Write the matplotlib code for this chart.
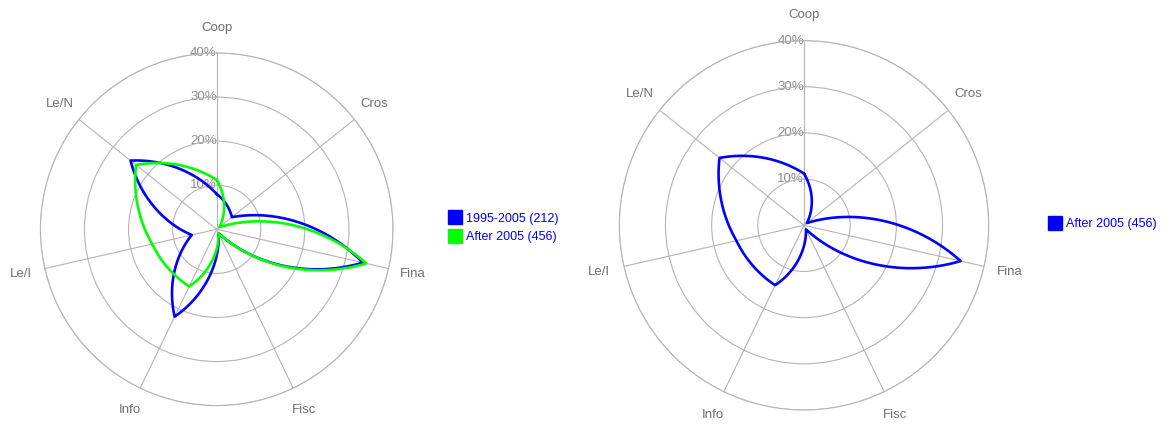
import numpy as np
import matplotlib
matplotlib.use('Agg')
import matplotlib.pyplot as plt
from matplotlib.lines import Line2D

plt.rcParams['font.family'] = ['Liberation Sans', 'DejaVu Sans']

categories = ['Coop', 'Cros', 'Fina', 'Fisc', 'Info', 'Le/I', 'Le/N']
ring_ticks = [10, 20, 30, 40]
ring_labels = ['10%', '20%', '30%', '40%']

# share of each category, in percent
before_2005 = [8.0, 4.4, 34.0, 1.0, 22.0, 5.8, 25.0]
after_2005 = [11.2, 0.8, 34.8, 1.0, 14.4, 15.0, 23.4]

label_before = '1995-2005 (212)'
label_after = 'After 2005 (456)'

BLUE = '#0000ff'
GREEN = '#00ff00'
GRID = '#b4b4b4'
TEXT = '#707070'

W, H = 1163, 424


def polar_rect(cx, cy, rad):
    """
    axes rectangle (figure fraction) for a circle given in pixels
    """
    return [(cx - rad) / W, (H - cy - rad) / H, 2 * rad / W, 2 * rad / H]


def smooth_path(values, blend=0.4, steps=60):
    """
    curve between neighbouring categories: a spiral in polar
    space pulled part of the way towards the straight chord
    """
    n = len(values)
    step = 2 * np.pi / n
    xs, ys = [], []
    for i in range(n):
        j = (i + 1) % n
        s = np.linspace(0, 1, steps)
        th = i * step + s * step
        r = values[i] + s * (values[j] - values[i])
        sx, sy = r * np.sin(th), r * np.cos(th)
        x0, y0 = values[i] * np.sin(i * step), values[i] * np.cos(i * step)
        x1, y1 = values[j] * np.sin(j * step), values[j] * np.cos(j * step)
        cx = (1 - s) * x0 + s * x1
        cy = (1 - s) * y0 + s * y1
        xs.append((1 - blend) * sx + blend * cx)
        ys.append((1 - blend) * sy + blend * cy)
    x = np.concatenate(xs)
    y = np.concatenate(ys)
    theta = np.unwrap(np.arctan2(x, y))
    return theta, np.hypot(x, y)


def radar(ax, series):
    """
    draws one circular radar with its grid and labels
    """
    n = len(categories)
    angles = np.arange(n) * 2 * np.pi / n
    ax.set_theta_zero_location('N')
    ax.set_theta_direction(-1)
    ax.set_ylim(0, 40)
    ax.set_xticks(angles)
    ax.set_xticklabels([])
    ax.set_yticks(ring_ticks)
    ax.set_yticklabels([])
    ax.grid(True, color=GRID, linewidth=0.8)
    ax.spines['polar'].set_color(GRID)
    ax.spines['polar'].set_linewidth(0.8)
    ax.tick_params(length=0)

    for a, name in zip(angles, categories):
        ax.text(a, 45.6, name, ha='center', va='center', color=TEXT,
                fontsize=9.5, clip_on=False)
    for r, lab in zip(ring_ticks, ring_labels):
        ax.text(0, r, lab, ha='right', va='center', color='#8c8c8c',
                fontsize=9.5, zorder=1)

    for values, color in series:
        theta, r = smooth_path(values)
        ax.plot(theta, r, color=color, linewidth=1.9, zorder=3)


fig = plt.figure(figsize=(W / 100, H / 100), dpi=100)

ax1 = fig.add_axes(polar_rect(216.7, 229.3, 176.3), projection='polar')
radar(ax1, [(before_2005, BLUE), (after_2005, GREEN)])

ax2 = fig.add_axes(polar_rect(804, 225.3, 184.7), projection='polar')
radar(ax2, [(after_2005, BLUE)])

handles = [Line2D([], [], marker='s', color=BLUE, linestyle='none', markersize=9.5),
           Line2D([], [], marker='s', color=GREEN, linestyle='none', markersize=9.5)]
fig.legend(handles, [label_before, label_after], loc='center left',
           bbox_to_anchor=(436 / W, 1 - 228 / H), frameon=False,
           labelcolor=BLUE, fontsize=9, handletextpad=0.3,
           labelspacing=0.55, handlelength=1.2)

fig.legend(handles[:1], [label_after], loc='center left',
           bbox_to_anchor=(1036 / W, 1 - 224 / H), frameon=False,
           labelcolor=BLUE, fontsize=9, handletextpad=0.3, handlelength=1.2)

fig.savefig('out.png', dpi=100)
